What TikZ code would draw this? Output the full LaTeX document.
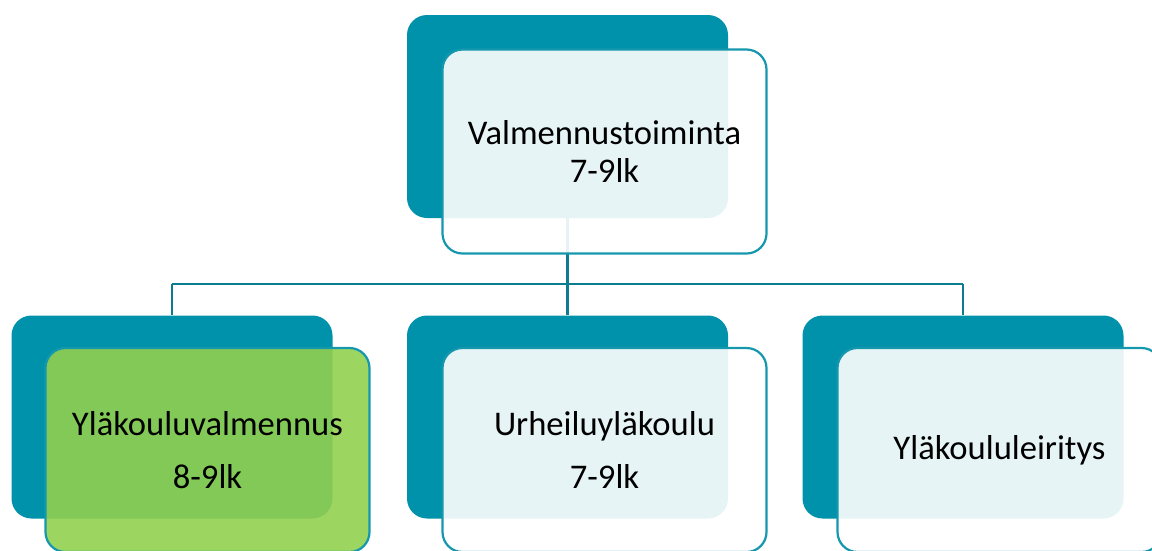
\documentclass[tikz,border=0pt]{standalone}
\usepackage{fontspec}
\setmainfont{Carlito}
\definecolor{tealbox}{HTML}{0092AA}
\definecolor{tealline}{HTML}{0E7C90}
\definecolor{tealedge}{HTML}{1597AE}
\definecolor{greenbox}{HTML}{92D050}
\begin{document}
\begin{tikzpicture}[x=1pt,y=-1pt,
  darkbox/.style={draw=none,fill=tealbox,rounded corners=20pt,minimum width=321pt,minimum height=203pt,inner sep=0pt},
  lightbox/.style={draw=tealedge,line width=2.2pt,fill=white,fill opacity=0.9,text opacity=1,rounded corners=20pt,minimum width=324pt,minimum height=204pt,inner sep=0pt,align=center,font=\fontsize{34.6}{38}\selectfont},
  greenfill/.style={fill=greenbox},
  conn/.style={draw=tealline,line width=2.6pt}]
\useasboundingbox (0,0) rectangle (1152,550);
\clip (0,0) rectangle (1152,550);
% connectors
\coordinate (hub) at (567.5,284);
\coordinate (hl) at (172,284);
\coordinate (hr) at (963,284);
% dark boxes
\node[darkbox] (topd) at (567.5,116.5) {};
\node[darkbox] (ld) at (172,417) {};
\node[darkbox] (md) at (567.5,417) {};
\node[darkbox] (rd) at (963,417) {};
\draw[conn] (topd.south) -- (hub);
\draw[conn] (hl) -- (hr);
\draw[conn] (hl) -- (ld.north);
\draw[conn] (hub) -- (md.north);
\draw[conn] (hr) -- (rd.north);
% light boxes
\node[lightbox] (topl) at (604.5,151.5) {Valmennustoiminta\\7-9lk};
\node[lightbox,greenfill,font=\fontsize{34.6}{53}\selectfont] (ll) at (207.5,450) {Yläkouluvalmennus\\8-9lk};
\node[lightbox,font=\fontsize{34.6}{53}\selectfont] (ml) at (604.5,450) {Urheiluyläkoulu\\7-9lk};
\node[lightbox] (rl) at (999.5,450) {Yläkoululeiritys};
\end{tikzpicture}
\end{document}
